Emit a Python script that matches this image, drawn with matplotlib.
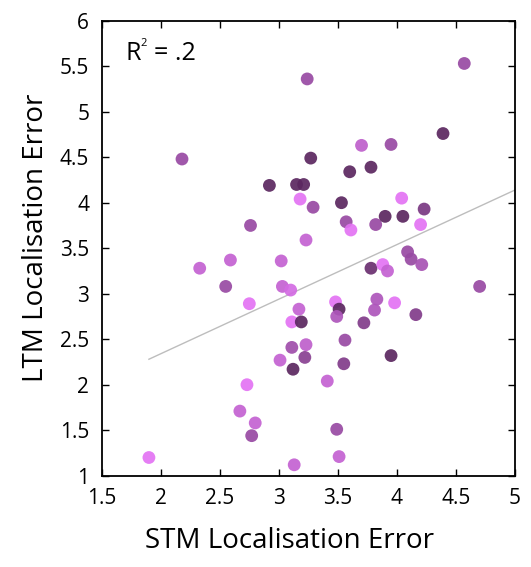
import numpy as np
import matplotlib.pyplot as plt
from matplotlib.colors import LinearSegmentedColormap

# --- data ---
stm_error = [2.18, 2.92, 3.15, 3.21, 3.18, 2.76, 3.24, 3.27, 3.23, 4.57,
             4.39, 3.70, 3.95, 3.60, 3.78, 3.29, 3.53, 3.57, 3.61, 3.82,
             3.90, 4.05, 4.04, 4.23, 4.20, 2.33, 2.59, 3.02, 2.55, 3.03,
             3.10, 2.75, 3.17, 3.11, 3.19, 3.11, 3.23, 3.01, 3.22, 3.12,
             2.73, 2.67, 2.80, 2.77, 1.90, 3.13, 4.09, 4.12, 4.21, 3.78,
             3.88, 3.92, 4.70, 3.48, 3.51, 3.49, 3.83, 3.81, 3.98, 4.16,
             3.72, 3.56, 3.55, 3.95, 3.41, 3.49, 3.51]
ltm_error = [4.48, 4.19, 4.20, 4.20, 4.04, 3.75, 5.36, 4.49, 3.59, 5.53,
             4.76, 4.63, 4.64, 4.34, 4.39, 3.95, 4.00, 3.79, 3.70, 3.76,
             3.85, 3.85, 4.05, 3.93, 3.76, 3.28, 3.37, 3.36, 3.08, 3.08,
             3.04, 2.89, 2.83, 2.69, 2.69, 2.41, 2.44, 2.27, 2.30, 2.17,
             2.00, 1.71, 1.58, 1.44, 1.20, 1.12, 3.46, 3.38, 3.32, 3.28,
             3.32, 3.25, 3.08, 2.91, 2.83, 2.75, 2.94, 2.82, 2.90, 2.77,
             2.68, 2.49, 2.23, 2.32, 2.04, 1.51, 1.21]
# per-participant shade (0 = pink, 1 = dark purple)
shade = [0.6, 1.0, 1.0, 1.0, 0.0, 0.6, 0.6, 1.0, 0.3, 0.6,
         1.0, 0.35, 0.6, 1.0, 1.0, 0.6, 1.0, 0.6, 0.0, 0.6,
         1.0, 1.0, 0.0, 0.8, 0.0, 0.3, 0.3, 0.3, 0.6, 0.3,
         0.15, 0.0, 0.3, 0.0, 1.0, 0.55, 0.35, 0.3, 0.7, 1.0,
         0.0, 0.3, 0.3, 0.6, 0.0, 0.3, 0.6, 0.6, 0.5, 0.9,
         0.0, 0.3, 0.6, 0.0, 1.0, 0.45, 0.45, 0.45, 0.0, 0.75,
         0.75, 0.6, 0.75, 1.0, 0.3, 0.6, 0.3]
fit_x = [1.9, 5.0]
fit_y = [2.28, 4.14]
x_ticks = [1.5, 2, 2.5, 3, 3.5, 4, 4.5, 5]
y_ticks = [1, 1.5, 2, 2.5, 3, 3.5, 4, 4.5, 5, 5.5, 6]
# --------------

plt.rcParams['font.family'] = ['Open Sans', 'DejaVu Sans']

cmap = LinearSegmentedColormap.from_list(
    "purples", ["#e373f4", "#c060ce", "#8e4498", "#5b2760"])

fig = plt.figure(figsize=(5.31, 5.67), dpi=100)
ax = fig.add_axes([0.1915, 0.161, 0.7785, 0.8025])

ax.plot(fit_x, fit_y, color="#bdbdbd", linewidth=1.0, zorder=1)
ax.scatter(stm_error, ltm_error, c=shade, cmap=cmap, vmin=0, vmax=1,
           s=85, alpha=0.92, edgecolors="none", zorder=2)

# R² annotation, superscript drawn as its own small text
ax.text(0.058, 0.955, "R", transform=ax.transAxes, fontsize=18,
        ha="left", va="top")
ax.text(0.094, 0.962, "2", transform=ax.transAxes, fontsize=8,
        ha="left", va="top")
ax.text(0.126, 0.955, "= .2", transform=ax.transAxes, fontsize=18,
        ha="left", va="top")

ax.set_xlim(1.5, 5)
ax.set_ylim(1, 6)
ax.set_xticks(x_ticks)
ax.set_xticklabels([f"{t:g}" for t in x_ticks])
ax.set_yticks(y_ticks)
ax.set_yticklabels([f"{t:g}" for t in y_ticks])
ax.tick_params(direction="in", length=5, width=1, labelsize=15,
               top=True, right=True, pad=9)
for sp in ax.spines.values():
    sp.set_linewidth(1.3)

ax.set_xlabel("STM Localisation Error", fontsize=20, labelpad=13)
ax.set_ylabel("LTM Localisation Error", fontsize=20, labelpad=7)
ax.xaxis.label.set_x(0.455)
ax.yaxis.label.set_y(0.522)

fig.savefig("out.png", dpi=100)
